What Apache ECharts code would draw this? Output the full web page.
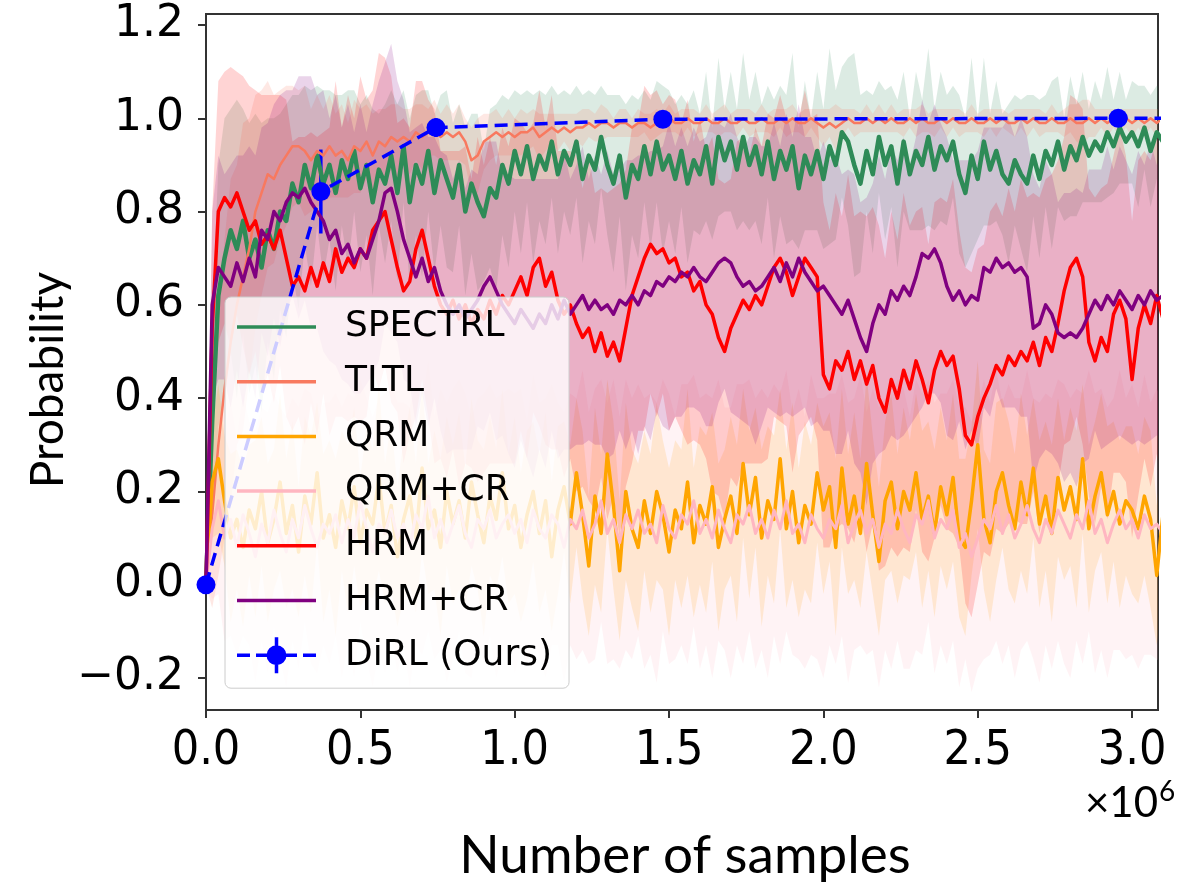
<!DOCTYPE html>
<html>
<head>
<meta charset="utf-8">
<title>Probability vs number of samples</title>
<script src="https://cdn.jsdelivr.net/npm/echarts@6/dist/echarts.min.js"></script>
<style>
  html, body { margin: 0; padding: 0; background: #fff; }
  #chart { width: 1194px; height: 888px; }
</style>
</head>
<body>
<div id="chart"></div>
<script>
// Logged every 0.02 x 10^6 samples, starting at 0.
const X_STEP = 0.02;

// ---- mean success probability per method ----
const spectrlMean = [
  0.00, 0.35, 0.62, 0.70, 0.76, 0.72, 0.78, 0.70, 0.74, 0.68,
  0.76, 0.72, 0.80, 0.78, 0.86, 0.82, 0.90, 0.85, 0.92, 0.86,
  0.90, 0.84, 0.91, 0.87, 0.93, 0.85, 0.90, 0.82, 0.89, 0.86,
  0.92, 0.84, 0.94, 0.82, 0.90, 0.86, 0.93, 0.84, 0.91, 0.87,
  0.83, 0.90, 0.80, 0.86, 0.82, 0.79, 0.85, 0.83, 0.90, 0.86,
  0.93, 0.88, 0.94, 0.87, 0.92, 0.89, 0.95, 0.88, 0.93, 0.90,
  0.95, 0.87, 0.92, 0.89, 0.96, 0.90, 0.86, 0.92, 0.83, 0.90,
  0.87, 0.94, 0.88, 0.95, 0.89, 0.92, 0.87, 0.93, 0.86, 0.91,
  0.88, 0.94, 0.86, 0.96, 0.91, 0.95, 0.89, 0.96, 0.90, 0.94,
  0.88, 0.95, 0.87, 0.93, 0.89, 0.94, 0.85, 0.92, 0.88, 0.93,
  0.87, 0.94, 0.90, 0.97, 0.95, 0.90, 0.86, 0.93, 0.88, 0.96,
  0.90, 0.94, 0.86, 0.95, 0.88, 0.93, 0.90, 0.96, 0.89, 0.94,
  0.91, 0.95, 0.88, 0.84, 0.92, 0.87, 0.95, 0.89, 0.93, 0.88,
  0.86, 0.91, 0.88, 0.86, 0.92, 0.87, 0.93, 0.90, 0.95, 0.89,
  0.94, 0.91, 0.96, 0.92, 0.95, 0.93, 0.97, 0.94, 0.98, 0.95,
  0.97, 0.94, 0.98, 0.93, 0.97, 0.95
];
const tltlMean = [
  0.00, 0.15, 0.30, 0.42, 0.52, 0.60, 0.66, 0.72, 0.80, 0.84,
  0.88, 0.87, 0.90, 0.92, 0.94, 0.94, 0.93, 0.91, 0.93, 0.92,
  0.94, 0.92, 0.93, 0.91, 0.94, 0.93, 0.95, 0.92, 0.95, 0.94,
  0.96, 0.95, 0.96, 0.95, 0.97, 0.96, 0.97, 0.98, 0.96, 0.97,
  0.96, 0.97, 0.95, 0.91, 0.92, 0.95, 0.96, 0.97, 0.96, 0.97,
  0.96, 0.97, 0.97, 0.98, 0.96, 0.97, 0.98, 0.97, 0.98, 0.97,
  0.98, 0.98, 0.99, 0.98, 0.99, 0.99, 0.98, 0.99, 0.99, 0.98,
  0.99, 0.99, 0.98, 0.99, 0.99, 1.00, 0.99, 0.99, 1.00, 0.99,
  0.99, 1.00, 0.99, 0.99, 1.00, 0.99, 0.99, 1.00, 0.99, 0.99,
  1.00, 0.99, 0.99, 1.00, 0.99, 1.00, 0.99, 0.99, 1.00, 0.99,
  0.98, 0.99, 0.98, 0.99, 1.00, 0.99, 0.99, 1.00, 0.99, 1.00,
  0.99, 1.00, 0.99, 0.99, 1.00, 0.99, 1.00, 0.99, 0.99, 1.00,
  0.99, 1.00, 0.99, 0.99, 1.00, 0.99, 0.99, 1.00, 0.99, 1.00,
  0.99, 0.99, 1.00, 0.99, 1.00, 0.99, 0.99, 1.00, 0.99, 0.99,
  1.00, 0.99, 0.99, 1.00, 0.99, 1.00, 0.99, 1.00, 0.99, 1.00,
  0.99, 1.00, 0.99, 1.00, 0.99, 1.00
];
const qrmMean = [
  0.00, 0.22, 0.27, 0.18, 0.10, 0.14, 0.08, 0.16, 0.12, 0.20,
  0.09, 0.14, 0.22, 0.11, 0.17, 0.07, 0.19, 0.13, 0.24, 0.10,
  0.15, 0.08, 0.18, 0.12, 0.21, 0.09, 0.16, 0.13, 0.23, 0.11,
  0.17, 0.06, 0.14, 0.19, 0.10, 0.25, 0.12, 0.16, 0.08, 0.20,
  0.13, 0.18, 0.10, 0.22, 0.15, 0.09, 0.19, 0.14, 0.24, 0.12,
  0.17, 0.08, 0.15, 0.20, 0.11, 0.18, 0.06, 0.16, 0.21, 0.13,
  0.24, 0.15, 0.04, 0.19, 0.11, 0.28, 0.17, 0.03, 0.20, 0.12,
  0.08, 0.18, 0.11, 0.20, 0.15, 0.07, 0.16, 0.12, 0.22, 0.09,
  0.17, 0.13, 0.21, 0.08, 0.14, 0.19, 0.11, 0.26, 0.15, 0.23,
  0.10, 0.18, 0.14, 0.27, 0.12, 0.20, 0.09, 0.17, 0.13, 0.24,
  0.16, 0.21, 0.08, 0.25, 0.13, 0.19, 0.11, 0.26, 0.15, 0.05,
  0.18, 0.22, 0.12, 0.20, 0.16, 0.24, 0.14, 0.19, 0.11, 0.21,
  0.15, 0.23, 0.10, 0.08, 0.18, 0.30, 0.14, 0.09, 0.20, 0.24,
  0.17, 0.12, 0.22, 0.15, 0.25, 0.13, 0.19, 0.11, 0.23, 0.16,
  0.21, 0.14, 0.27, 0.12, 0.19, 0.24, 0.15, 0.20, 0.13, 0.18,
  0.16, 0.12, 0.19, 0.14, 0.02, 0.15
];
const qrmCrMean = [
  0.00, 0.12, 0.18, 0.10, 0.14, 0.08, 0.15, 0.11, 0.06, 0.13,
  0.09, 0.16, 0.11, 0.07, 0.14, 0.10, 0.17, 0.12, 0.08, 0.13,
  0.11, 0.15, 0.09, 0.14, 0.10, 0.18, 0.12, 0.07, 0.13, 0.11,
  0.16, 0.10, 0.13, 0.08, 0.15, 0.12, 0.19, 0.10, 0.14, 0.09,
  0.13, 0.17, 0.11, 0.08, 0.14, 0.12, 0.16, 0.10, 0.13, 0.15,
  0.11, 0.14, 0.09, 0.16, 0.12, 0.10, 0.15, 0.13, 0.08, 0.14,
  0.12, 0.16, 0.10, 0.13, 0.18, 0.11, 0.14, 0.09, 0.15, 0.12,
  0.16, 0.11, 0.13, 0.09, 0.17, 0.12, 0.10, 0.15, 0.13, 0.18,
  0.11, 0.14, 0.10, 0.16, 0.12, 0.09, 0.15, 0.13, 0.17, 0.11,
  0.14, 0.10, 0.16, 0.12, 0.18, 0.11, 0.13, 0.09, 0.15, 0.12,
  0.10, 0.14, 0.12, 0.17, 0.09, 0.13, 0.16, 0.11, 0.14, 0.08,
  0.13, 0.11, 0.16, 0.12, 0.09, 0.15, 0.13, 0.18, 0.10, 0.14,
  0.12, 0.16, 0.08, 0.11, 0.06, 0.10, 0.14, 0.12, 0.17, 0.11,
  0.15, 0.10, 0.13, 0.17, 0.12, 0.09, 0.14, 0.11, 0.16, 0.13,
  0.10, 0.15, 0.12, 0.18, 0.11, 0.14, 0.09, 0.13, 0.16, 0.12,
  0.14, 0.10, 0.15, 0.12, 0.13, 0.11
];
const hrmMean = [
  0.00, 0.55, 0.80, 0.83, 0.81, 0.84, 0.80, 0.76, 0.78, 0.73,
  0.75, 0.72, 0.76, 0.70, 0.64, 0.66, 0.63, 0.68, 0.64, 0.69,
  0.65, 0.72, 0.67, 0.70, 0.68, 0.72, 0.70, 0.76, 0.78, 0.80,
  0.74, 0.68, 0.63, 0.65, 0.72, 0.76, 0.70, 0.64, 0.60, 0.58,
  0.61, 0.57, 0.60, 0.56, 0.59, 0.57, 0.61, 0.58, 0.62, 0.60,
  0.63, 0.66, 0.62, 0.68, 0.70, 0.64, 0.67, 0.61, 0.58, 0.60,
  0.56, 0.53, 0.55, 0.50, 0.54, 0.49, 0.52, 0.48, 0.55, 0.62,
  0.66, 0.70, 0.73, 0.71, 0.72, 0.69, 0.70, 0.66, 0.67, 0.63,
  0.65, 0.60, 0.58, 0.53, 0.50, 0.55, 0.58, 0.61, 0.59, 0.62,
  0.60, 0.64, 0.68, 0.70, 0.67, 0.62, 0.66, 0.70, 0.68, 0.66,
  0.45, 0.42, 0.48, 0.46, 0.50, 0.44, 0.48, 0.43, 0.47, 0.40,
  0.37, 0.44, 0.40, 0.46, 0.42, 0.48, 0.44, 0.39, 0.46, 0.50,
  0.47, 0.49, 0.42, 0.32, 0.30, 0.36, 0.40, 0.43, 0.47, 0.45,
  0.49, 0.47, 0.50, 0.48, 0.52, 0.47, 0.53, 0.50, 0.56, 0.63,
  0.68, 0.70, 0.66, 0.52, 0.48, 0.53, 0.50, 0.58, 0.61, 0.57,
  0.44, 0.55, 0.60, 0.56, 0.62, 0.57
];
const hrmCrMean = [
  0.00, 0.60, 0.68, 0.66, 0.64, 0.69, 0.65, 0.70, 0.66, 0.76,
  0.74, 0.80, 0.78, 0.82, 0.84, 0.83, 0.85, 0.82, 0.80, 0.78,
  0.74, 0.76, 0.71, 0.73, 0.69, 0.72, 0.70, 0.74, 0.78, 0.84,
  0.85, 0.80, 0.74, 0.70, 0.66, 0.70, 0.65, 0.68, 0.63, 0.60,
  0.58, 0.60, 0.57, 0.59, 0.61, 0.64, 0.66, 0.63, 0.60, 0.58,
  0.56, 0.59, 0.57, 0.55, 0.58, 0.56, 0.60, 0.57, 0.61, 0.58,
  0.60, 0.62, 0.59, 0.61, 0.59, 0.60, 0.58, 0.61, 0.60, 0.62,
  0.60, 0.63, 0.62, 0.65, 0.64, 0.66, 0.65, 0.67, 0.66, 0.68,
  0.66, 0.65, 0.67, 0.69, 0.70, 0.69, 0.66, 0.64, 0.65, 0.63,
  0.64, 0.66, 0.68, 0.65, 0.69, 0.66, 0.70, 0.67, 0.65, 0.63,
  0.64, 0.62, 0.60, 0.58, 0.61, 0.57, 0.53, 0.50, 0.56, 0.60,
  0.58, 0.63, 0.61, 0.64, 0.62, 0.66, 0.71, 0.70, 0.72, 0.69,
  0.64, 0.61, 0.63, 0.60, 0.62, 0.61, 0.68, 0.67, 0.70, 0.68,
  0.69, 0.67, 0.68, 0.66, 0.55, 0.56, 0.60, 0.58, 0.54, 0.53,
  0.54, 0.53, 0.55, 0.58, 0.61, 0.59, 0.62, 0.60, 0.63, 0.61,
  0.59, 0.62, 0.60, 0.63, 0.61, 0.62
];

// ---- standard deviation across seeds (half-width of each shaded band) ----
const spectrlSd = [
  0.00, 0.22, 0.28, 0.30, 0.26, 0.32, 0.24, 0.29, 0.27, 0.31,
  0.24, 0.28, 0.21, 0.25, 0.19, 0.23, 0.17, 0.21, 0.15, 0.20,
  0.16, 0.21, 0.14, 0.19, 0.13, 0.18, 0.15, 0.20, 0.12, 0.17,
  0.14, 0.19, 0.12, 0.18, 0.15, 0.20, 0.13, 0.17, 0.14, 0.19,
  0.16, 0.13, 0.18, 0.15, 0.19, 0.14, 0.17, 0.20, 0.15, 0.18,
  0.13, 0.17, 0.12, 0.18, 0.14, 0.16, 0.12, 0.17, 0.13, 0.15,
  0.12, 0.18, 0.14, 0.16, 0.11, 0.15, 0.19, 0.13, 0.20, 0.15,
  0.17, 0.12, 0.16, 0.13, 0.18, 0.14, 0.16, 0.12, 0.17, 0.15,
  0.13, 0.16, 0.12, 0.17, 0.11, 0.15, 0.13, 0.18, 0.14, 0.16,
  0.15, 0.12, 0.17, 0.14, 0.16, 0.20, 0.13, 0.16, 0.12, 0.17,
  0.15, 0.21, 0.16, 0.14, 0.18, 0.24, 0.19, 0.13, 0.17, 0.12,
  0.16, 0.13, 0.18, 0.15, 0.12, 0.17, 0.14, 0.19, 0.13, 0.16,
  0.14, 0.12, 0.17, 0.16, 0.21, 0.13, 0.18, 0.12, 0.15, 0.13,
  0.17, 0.14, 0.16, 0.19, 0.13, 0.17, 0.12, 0.18, 0.14, 0.11,
  0.15, 0.12, 0.14, 0.10, 0.13, 0.11, 0.14, 0.10, 0.12, 0.09,
  0.11, 0.13, 0.09, 0.12, 0.10, 0.11
];
const tltlSd = [
  0.00, 0.20, 0.28, 0.32, 0.35, 0.30, 0.33, 0.28, 0.25, 0.22,
  0.20, 0.18, 0.16, 0.15, 0.13, 0.12, 0.14, 0.11, 0.12, 0.10,
  0.11, 0.09, 0.10, 0.08, 0.10, 0.09, 0.08, 0.09, 0.07, 0.08,
  0.07, 0.08, 0.06, 0.07, 0.06, 0.07, 0.05, 0.06, 0.05, 0.06,
  0.05, 0.06, 0.05, 0.07, 0.08, 0.06, 0.05, 0.05, 0.04, 0.05,
  0.04, 0.05, 0.04, 0.04, 0.05, 0.04, 0.03, 0.04, 0.03, 0.04,
  0.03, 0.04, 0.03, 0.03, 0.04, 0.03, 0.02, 0.03, 0.03, 0.02,
  0.03, 0.02, 0.03, 0.03, 0.02, 0.03, 0.02, 0.03, 0.02, 0.03,
  0.02, 0.03, 0.02, 0.03, 0.03, 0.02, 0.03, 0.02, 0.03, 0.02,
  0.03, 0.02, 0.03, 0.02, 0.03, 0.03, 0.02, 0.03, 0.02, 0.03,
  0.04, 0.03, 0.05, 0.03, 0.02, 0.03, 0.02, 0.03, 0.02, 0.03,
  0.02, 0.03, 0.02, 0.03, 0.02, 0.03, 0.03, 0.02, 0.03, 0.02,
  0.03, 0.02, 0.03, 0.02, 0.03, 0.02, 0.03, 0.02, 0.03, 0.02,
  0.02, 0.03, 0.02, 0.03, 0.02, 0.03, 0.02, 0.03, 0.02, 0.03,
  0.03, 0.04, 0.05, 0.04, 0.03, 0.02, 0.03, 0.02, 0.03, 0.02,
  0.03, 0.02, 0.03, 0.02, 0.03, 0.02
];
const qrmSd = [
  0.00, 0.12, 0.16, 0.14, 0.18, 0.15, 0.17, 0.14, 0.19, 0.16,
  0.17, 0.15, 0.19, 0.16, 0.18, 0.14, 0.17, 0.19, 0.15, 0.18,
  0.16, 0.19, 0.15, 0.18, 0.17, 0.14, 0.18, 0.16, 0.20, 0.15,
  0.18, 0.15, 0.17, 0.19, 0.16, 0.18, 0.14, 0.17, 0.19, 0.16,
  0.17, 0.19, 0.15, 0.18, 0.16, 0.20, 0.17, 0.15, 0.18, 0.16,
  0.19, 0.16, 0.18, 0.15, 0.17, 0.19, 0.16, 0.18, 0.14, 0.17,
  0.16, 0.18, 0.15, 0.19, 0.17, 0.16, 0.18, 0.15, 0.19, 0.17,
  0.18, 0.15, 0.17, 0.19, 0.16, 0.18, 0.15, 0.17, 0.20, 0.16,
  0.17, 0.19, 0.16, 0.18, 0.15, 0.17, 0.19, 0.16, 0.18, 0.15,
  0.19, 0.16, 0.18, 0.15, 0.17, 0.19, 0.16, 0.18, 0.17, 0.15,
  0.18, 0.16, 0.19, 0.17, 0.15, 0.18, 0.16, 0.19, 0.17, 0.16,
  0.17, 0.19, 0.16, 0.18, 0.15, 0.17, 0.19, 0.16, 0.18, 0.17,
  0.16, 0.18, 0.17, 0.19, 0.16, 0.18, 0.15, 0.17, 0.19, 0.16,
  0.18, 0.16, 0.19, 0.17, 0.15, 0.18, 0.16, 0.19, 0.17, 0.15,
  0.17, 0.19, 0.16, 0.18, 0.16, 0.17, 0.19, 0.15, 0.18, 0.16,
  0.18, 0.16, 0.17, 0.19, 0.15, 0.17
];
const qrmCrSd = [
  0.00, 0.15, 0.20, 0.22, 0.25, 0.23, 0.26, 0.24, 0.27, 0.25,
  0.28, 0.25, 0.27, 0.29, 0.26, 0.28, 0.25, 0.29, 0.27, 0.26,
  0.28, 0.26, 0.29, 0.27, 0.30, 0.26, 0.28, 0.29, 0.27, 0.30,
  0.27, 0.29, 0.26, 0.30, 0.28, 0.27, 0.29, 0.26, 0.28, 0.30,
  0.29, 0.27, 0.30, 0.28, 0.26, 0.29, 0.27, 0.30, 0.28, 0.27,
  0.30, 0.28, 0.26, 0.29, 0.27, 0.30, 0.28, 0.26, 0.29, 0.27,
  0.28, 0.30, 0.27, 0.29, 0.26, 0.28, 0.30, 0.27, 0.29, 0.28,
  0.27, 0.29, 0.28, 0.30, 0.27, 0.29, 0.26, 0.28, 0.30, 0.27,
  0.29, 0.27, 0.30, 0.28, 0.26, 0.29, 0.28, 0.30, 0.27, 0.29,
  0.28, 0.30, 0.27, 0.29, 0.28, 0.26, 0.29, 0.27, 0.30, 0.28,
  0.30, 0.27, 0.29, 0.28, 0.30, 0.27, 0.29, 0.26, 0.28, 0.30,
  0.27, 0.29, 0.28, 0.30, 0.27, 0.29, 0.28, 0.26, 0.29, 0.27,
  0.29, 0.28, 0.30, 0.27, 0.29, 0.28, 0.30, 0.27, 0.29, 0.28,
  0.28, 0.30, 0.27, 0.29, 0.28, 0.30, 0.27, 0.29, 0.28, 0.30,
  0.30, 0.27, 0.29, 0.28, 0.30, 0.28, 0.29, 0.27, 0.30, 0.28,
  0.29, 0.28, 0.30, 0.27, 0.29, 0.28
];
const hrmSd = [
  0.00, 0.25, 0.28, 0.27, 0.30, 0.26, 0.29, 0.31, 0.28, 0.32,
  0.30, 0.33, 0.29, 0.34, 0.31, 0.30, 0.33, 0.29, 0.32, 0.28,
  0.33, 0.36, 0.31, 0.35, 0.32, 0.37, 0.34, 0.30, 0.36, 0.33,
  0.35, 0.31, 0.37, 0.33, 0.36, 0.32, 0.34, 0.38, 0.33, 0.35,
  0.32, 0.36, 0.34, 0.31, 0.37, 0.33, 0.35, 0.32, 0.36, 0.34,
  0.37, 0.33, 0.35, 0.31, 0.36, 0.34, 0.38, 0.32, 0.35, 0.33,
  0.36, 0.32, 0.37, 0.34, 0.31, 0.35, 0.33, 0.38, 0.34, 0.36,
  0.33, 0.37, 0.32, 0.35, 0.31, 0.36, 0.34, 0.33, 0.37, 0.32,
  0.35, 0.33, 0.38, 0.34, 0.36, 0.32, 0.37, 0.35, 0.33, 0.36,
  0.34, 0.37, 0.32, 0.35, 0.33, 0.38, 0.34, 0.36, 0.32, 0.35,
  0.37, 0.34, 0.36, 0.33, 0.38, 0.35, 0.32, 0.36, 0.34, 0.37,
  0.33, 0.36, 0.34, 0.38, 0.35, 0.32, 0.37, 0.34, 0.36, 0.33,
  0.35, 0.38, 0.34, 0.36, 0.37, 0.36, 0.33, 0.37, 0.35, 0.34,
  0.36, 0.33, 0.37, 0.35, 0.32, 0.36, 0.34, 0.38, 0.35, 0.33,
  0.37, 0.34, 0.36, 0.33, 0.35, 0.32, 0.36, 0.34, 0.37, 0.35,
  0.34, 0.36, 0.33, 0.35, 0.34, 0.36
];
const hrmCrSd = [
  0.00, 0.20, 0.24, 0.22, 0.26, 0.23, 0.27, 0.24, 0.26, 0.22,
  0.25, 0.23, 0.27, 0.24, 0.22, 0.26, 0.24, 0.27, 0.25, 0.28,
  0.26, 0.29, 0.27, 0.30, 0.28, 0.31, 0.27, 0.29, 0.30, 0.28,
  0.31, 0.28, 0.30, 0.27, 0.32, 0.29, 0.31, 0.28, 0.30, 0.32,
  0.29, 0.31, 0.28, 0.30, 0.27, 0.31, 0.29, 0.32, 0.28, 0.30,
  0.31, 0.28, 0.30, 0.32, 0.29, 0.31, 0.27, 0.30, 0.32, 0.29,
  0.30, 0.32, 0.28, 0.31, 0.29, 0.33, 0.30, 0.28, 0.31, 0.29,
  0.32, 0.29, 0.31, 0.28, 0.30, 0.33, 0.29, 0.31, 0.28, 0.30,
  0.29, 0.31, 0.33, 0.30, 0.28, 0.32, 0.30, 0.29, 0.31, 0.33,
  0.30, 0.28, 0.31, 0.29, 0.32, 0.30, 0.33, 0.29, 0.31, 0.28,
  0.31, 0.29, 0.32, 0.30, 0.28, 0.31, 0.29, 0.33, 0.30, 0.32,
  0.29, 0.31, 0.30, 0.32, 0.28, 0.30, 0.33, 0.29, 0.31, 0.30,
  0.32, 0.30, 0.28, 0.31, 0.29, 0.32, 0.30, 0.31, 0.28, 0.30,
  0.31, 0.29, 0.32, 0.30, 0.33, 0.29, 0.31, 0.30, 0.28, 0.31,
  0.30, 0.32, 0.29, 0.31, 0.28, 0.30, 0.32, 0.29, 0.31, 0.30,
  0.29, 0.31, 0.30, 0.32, 0.29, 0.30
];

// ---- DiRL evaluations (x in 10^6 samples), with error bar half-heights ----
const dirlX   = [0, 0.372, 0.745, 1.48, 2.955, 3.2];
const dirlY   = [0, 0.843, 0.98, 0.998, 1.0, 1.0];
const dirlErr = [0, 0.09, 0.02, 0.004, 0.002, 0];

// ---- axis ticks ----
const xTicks = [0, 0.5, 1.0, 1.5, 2.0, 2.5, 3.0];
const yTicks = [-0.2, 0, 0.2, 0.4, 0.6, 0.8, 1.0, 1.2];

const methods = [
  { name: 'SPECTRL', mean: spectrlMean, sd: spectrlSd, color: '#2e8b57', width: 4.5 },
  { name: 'TLTL',    mean: tltlMean,    sd: tltlSd,    color: '#f8795f', width: 2.5 },
  { name: 'QRM',     mean: qrmMean,     sd: qrmSd,     color: '#ffa500', width: 3.5 },
  { name: 'QRM+CR',  mean: qrmCrMean,   sd: qrmCrSd,   color: '#ffb6c1', width: 3 },
  { name: 'HRM',     mean: hrmMean,     sd: hrmSd,     color: '#ff0000', width: 3.5 },
  { name: 'HRM+CR',  mean: hrmCrMean,   sd: hrmCrSd,   color: '#800080', width: 3.5 }
];
const DIRL_NAME = 'DiRL (Ours)';
const BLUE = '#0000ff';
const BAND_OPACITY = 0.17;

const xsFor = arr => arr.map((_, i) => +(i * X_STEP).toFixed(2));

// shaded mean ± sd band, drawn as one polygon through the axis scales
function bandSeries(m) {
  const xs = xsFor(m.mean);
  return {
    type: 'custom',
    coordinateSystem: 'cartesian2d',
    clip: true,
    silent: true,
    data: [[0, 0]],
    encode: { x: 0, y: 1 },
    renderItem: (params, api) => {
      const pts = [];
      for (let i = 0; i < xs.length; i++) pts.push(api.coord([xs[i], m.mean[i] + m.sd[i]]));
      for (let i = xs.length - 1; i >= 0; i--) pts.push(api.coord([xs[i], m.mean[i] - m.sd[i]]));
      return {
        type: 'polygon',
        shape: { points: pts },
        style: { fill: m.color, opacity: BAND_OPACITY, stroke: null }
      };
    }
  };
}

function lineSeries(m) {
  const xs = xsFor(m.mean);
  return {
    name: m.name,
    type: 'line',
    color: m.color,
    symbol: 'none',
    showSymbol: false,
    clip: true,
    silent: true,
    lineStyle: { color: m.color, width: m.width, join: 'round' },
    data: xs.map((x, i) => [x, m.mean[i]])
  };
}

const series = [];
methods.forEach(m => series.push(bandSeries(m)));
methods.forEach(m => series.push(lineSeries(m)));

// DiRL error bars
series.push({
  type: 'custom',
  coordinateSystem: 'cartesian2d',
  clip: true,
  silent: true,
  encode: { x: 0, y: 1 },
  data: dirlX.map((x, i) => [x, dirlY[i], dirlErr[i]]),
  renderItem: (params, api) => {
    const x = api.value(0), y = api.value(1), e = api.value(2);
    const a = api.coord([x, y + e]);
    const b = api.coord([x, y - e]);
    return {
      type: 'line',
      shape: { x1: a[0], y1: a[1], x2: b[0], y2: b[1] },
      style: { stroke: BLUE, lineWidth: 3.5 }
    };
  }
});

// DiRL dashed line with markers
series.push({
  name: DIRL_NAME,
  type: 'line',
  color: BLUE,
  symbol: 'circle',
  symbolSize: 19,
  showSymbol: true,
  clip: true,
  silent: true,
  itemStyle: { color: BLUE },
  lineStyle: { color: BLUE, width: 3.5, type: [13, 7] },
  data: dirlX.map((x, i) => (i === dirlX.length - 1
    ? { value: [x, dirlY[i]], symbol: 'none' }
    : [x, dirlY[i]]))
});

const LINE_ICON = 'path://M0,0H79V3.5H0Z';
const DIRL_ICON = 'path://M0,16.25h13v3.5h-13z M19,16.25h11v3.5h-11z ' +
  'M49.5,18a10,10 0 1,1 -20,0a10,10 0 1,1 20,0z M37.75,0h3.5v36h-3.5z ' +
  'M49,16.25h11v3.5h-11z M66,16.25h13v3.5h-13z';

const tickFont = { fontFamily: 'DejaVu Sans', color: '#000' };
const AXIS_COLOR = '#333333';

const option = {
  animation: false,
  backgroundColor: '#ffffff',
  grid: {
    left: 206, right: 36, top: 14, bottom: 178,
    show: true, borderColor: AXIS_COLOR, borderWidth: 2, backgroundColor: 'transparent'
  },
  xAxis: {
    type: 'value',
    min: 0, max: 3.084,
    splitLine: { show: false },
    axisLine: { show: true, onZero: false, lineStyle: { color: AXIS_COLOR, width: 2 } },
    axisTick: { show: true, length: 8, customValues: xTicks, lineStyle: { color: AXIS_COLOR, width: 2 } },
    axisLabel: {
      customValues: xTicks,
      margin: 18,
      fontSize: 48,
      fontFamily: '"DejaVu Sans Condensed", "DejaVu Sans"',
      color: '#000',
      formatter: v => v.toFixed(1)
    }
  },
  yAxis: {
    type: 'value',
    min: -0.2686, max: 1.2236,
    splitLine: { show: false },
    axisLine: { show: true, onZero: false, lineStyle: { color: AXIS_COLOR, width: 2 } },
    axisTick: { show: true, length: 8, customValues: yTicks, lineStyle: { color: AXIS_COLOR, width: 2 } },
    axisLabel: Object.assign({
      customValues: yTicks,
      margin: 22,
      fontSize: 44,
      formatter: v => (v < -1e-9 ? '\u2212' : '') + Math.abs(v).toFixed(1)
    }, tickFont)
  },
  legend: {
    orient: 'vertical',
    left: 225, top: 297,
    padding: [12, 17, 15, 12],
    itemWidth: 79, itemHeight: 36, itemGap: 18.7,
    backgroundColor: 'rgba(255,255,255,0.8)',
    borderColor: '#cccccc', borderWidth: 1, borderRadius: 6,
    selectedMode: false,
    textStyle: { fontFamily: 'DejaVu Sans', fontSize: 36, color: '#000', padding: [0, 0, 0, 24] },
    data: methods.map(m => ({ name: m.name, icon: LINE_ICON }))
      .concat([{ name: DIRL_NAME, icon: DIRL_ICON }])
  },
  graphic: [
    {
      type: 'text', x: 48, y: 380, rotation: Math.PI / 2,
      style: { text: 'Probability', fontFamily: 'Lato', fontSize: 46, fill: '#000',
               align: 'center', verticalAlign: 'middle' }
    },
    {
      type: 'text', x: 685, y: 856,
      style: { text: 'Number of samples', fontFamily: 'Lato', fontSize: 53, fill: '#000',
               align: 'center', verticalAlign: 'middle' }
    },
    {
      type: 'text', x: 1158, y: 824,
      style: { text: '\u00d710', fontFamily: 'Lato', fontSize: 42, fill: '#000',
               align: 'right', verticalAlign: 'bottom' }
    },
    {
      type: 'text', x: 1159, y: 806,
      style: { text: '6', fontFamily: 'Lato', fontSize: 28, fill: '#000',
               align: 'left', verticalAlign: 'bottom' }
    }
  ],
  series: series
};

const chart = echarts.init(document.getElementById('chart'), null, { renderer: 'canvas' });
chart.setOption(option);
</script>
</body>
</html>
